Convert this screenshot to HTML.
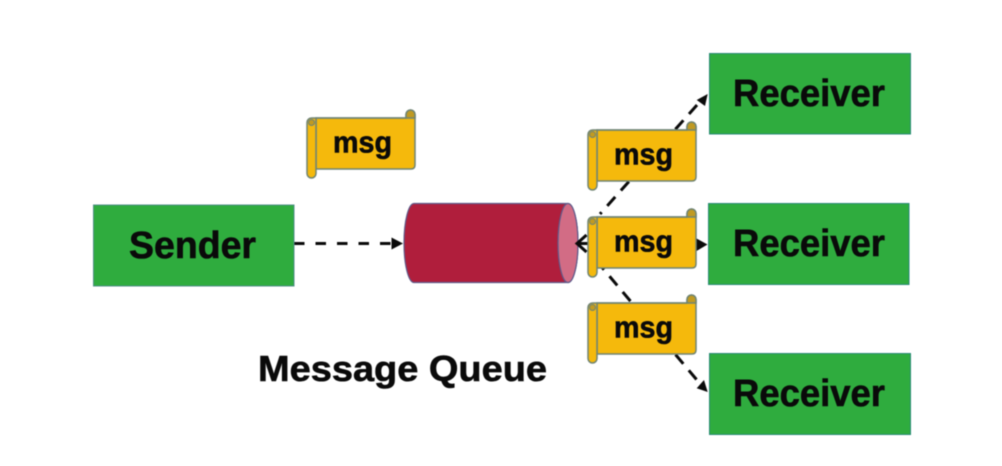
<!DOCTYPE html>
<html>
<head>
<meta charset="utf-8">
<style>
html,body{margin:0;padding:0;background:#fff;width:1002px;height:466px;overflow:hidden}
svg{display:block;filter:blur(0.45px)}
text{font-family:"Liberation Sans",sans-serif;font-weight:bold;fill:#0a0a0a;stroke:#0a0a0a;stroke-width:0.6px}
</style>
</head>
<body>
<svg width="1002" height="466" viewBox="0 0 1002 466" xmlns="http://www.w3.org/2000/svg">
<defs>
<g id="scroll">
  <path d="M406 118 V114.500 A4.500 4.500 0 0 1 415 114.500 V165 Q415 169 411 169 H316 V118 Z" fill="#f5b90c" stroke="#6f8474" stroke-width="1.500"/>
  <path d="M406 118 V114.500 A4.500 4.500 0 0 1 415 114.500 V118 Z" fill="#c09a22" stroke="#6f8474" stroke-width="1.500"/>
  <path d="M316 118 H406" stroke="#6f8474" stroke-width="1.500" fill="none"/>
  <path d="M307 122.500 A4.500 4.500 0 0 1 311.500 118 H316 V173.500 A4.500 4.500 0 0 1 307 173.500 Z" fill="#f5b90c" stroke="#6f8474" stroke-width="1.500"/>
  <circle cx="311.500" cy="122.500" r="3" fill="#c09a22" stroke="#6f8474" stroke-width="1"/>
  <text x="333" y="152.500" font-size="31" textLength="59" lengthAdjust="spacingAndGlyphs">msg</text>
</g>
</defs>

<!-- dashed connectors -->
<g stroke="#0a0a0a" stroke-width="3" fill="none">
  <line x1="294" y1="243.500" x2="392" y2="243.500" stroke-dasharray="10.500 11"/>
  <line x1="697" y1="105" x2="600" y2="214" stroke-dasharray="12 8.500"/>
  <line x1="696.500" y1="379.500" x2="600" y2="265" stroke-dasharray="12 8.500"/>
</g>

<!-- arrowheads -->
<path d="M391.500 237.500 L403 243.500 L391.500 249.500 Z" fill="#0a0a0a"/>
<path d="M707.700 94 L696.700 100 L705 106 Z" fill="#0a0a0a"/>
<path d="M707.700 392 L696.700 388.300 L704 380 Z" fill="#0a0a0a"/>
<path d="M696.500 238.500 L707.500 244.500 L696.500 251 Z" fill="#0a0a0a"/>

<!-- boxes -->
<rect x="93.500" y="205" width="200.500" height="81" fill="#2fac3e" stroke="#4f8f86" stroke-width="1"/>
<rect x="709.500" y="53.500" width="201" height="80.500" fill="#2fac3e" stroke="#2a8a78" stroke-width="1"/>
<rect x="708.500" y="203.500" width="200.500" height="81" fill="#2fac3e" stroke="#2a8a78" stroke-width="1"/>
<rect x="709.500" y="353.500" width="201" height="81" fill="#2fac3e" stroke="#2a8a78" stroke-width="1"/>

<text x="129" y="258" font-size="38" textLength="127" lengthAdjust="spacingAndGlyphs">Sender</text>
<text x="733" y="106" font-size="38" textLength="152" lengthAdjust="spacingAndGlyphs">Receiver</text>
<text x="733" y="256" font-size="38" textLength="152" lengthAdjust="spacingAndGlyphs">Receiver</text>
<text x="733" y="406" font-size="38" textLength="152" lengthAdjust="spacingAndGlyphs">Receiver</text>
<text x="258" y="381" font-size="36" textLength="289" lengthAdjust="spacingAndGlyphs">Message Queue</text>

<!-- cylinder -->
<path d="M414 203.500 H568 A10 39.500 0 0 1 568 282.500 H414 A10 39.500 0 0 1 414 203.500 Z" fill="#b01e3c" stroke="#5f5a8a" stroke-width="1.200"/>
<ellipse cx="568" cy="243" rx="10" ry="39.500" fill="#d26c85" stroke="#5f5a8a" stroke-width="1.200"/>

<!-- arrow into queue -->
<path d="M586.500 235 L577 243.500 L586.500 252" fill="none" stroke="#0a0a0a" stroke-width="3"/>
<line x1="578" y1="243.500" x2="589" y2="243.500" stroke="#0a0a0a" stroke-width="3"/>

<!-- scrolls -->
<use href="#scroll"/>
<use href="#scroll" transform="translate(281 12)"/>
<use href="#scroll" transform="translate(281 99)"/>
<use href="#scroll" transform="translate(281 185)"/>
</svg>
</body>
</html>
